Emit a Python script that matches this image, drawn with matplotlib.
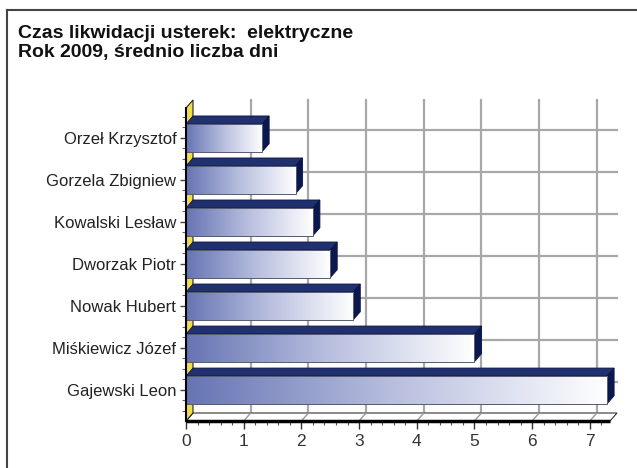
import numpy as np
import matplotlib.pyplot as plt
from matplotlib.patches import Polygon
from matplotlib.colors import LinearSegmentedColormap
from matplotlib.ticker import MultipleLocator

plt.rcParams['font.family'] = ['Liberation Sans', 'DejaVu Sans']

# dane z wykresu (od dołu do góry)
names = ['Gajewski Leon', 'Miśkiewicz Józef', 'Nowak Hubert', 'Dworzak Piotr',
         'Kowalski Lesław', 'Gorzela Zbigniew', 'Orzeł Krzysztof']
days = [7.3, 5.0, 2.9, 2.5, 2.2, 1.9, 1.32]
x_ticks = [0, 1, 2, 3, 4, 5, 6, 7]

W, H = 637, 468
fig = plt.figure(figsize=(W / 100, H / 100), dpi=100)
ax = fig.add_axes([186 / W, 47 / H, 424 / W, 313 / H])
xmax = 7.35
ylo, yhi = -0.74, 6.71
ax.set_xlim(0, xmax)
ax.set_ylim(ylo, yhi)

# przesunięcie głębi 3D (piksele -> jednostki danych)
p0 = ax.transData.transform((0, 0))
dx, dy = ax.transData.inverted().transform(p0 + np.array([7, 8]))

ypos = np.arange(len(names))
h = 0.66

# tylna ściana - siatka
for xv in x_ticks[1:]:
    ax.plot([xv + dx, xv + dx], [ylo + dy, yhi + dy], color='#a8a8a8', lw=1.6, zorder=1, clip_on=False)
for yv in ypos:
    ax.plot([dx, xmax + dx], [yv + dy, yv + dy], color='#a8a8a8', lw=1.6, zorder=1, clip_on=False)

# podłoga
floor = Polygon([(0, ylo), (xmax, ylo), (xmax + dx, ylo + dy), (dx, ylo + dy)],
                closed=True, facecolor='white', edgecolor='#333333', lw=0.8, zorder=2, clip_on=False)
ax.add_patch(floor)
for xv in x_ticks[1:]:
    ax.plot([xv, xv + dx], [ylo, ylo + dy], color='#999999', lw=1.0, zorder=2, clip_on=False)
ax.plot([0, xmax], [ylo, ylo], color='black', lw=2.5, zorder=6, clip_on=False, solid_capstyle='butt')

# lewa ściana
wall = Polygon([(0, ylo), (0, yhi), (dx, yhi + dy), (dx, ylo + dy)],
               closed=True, facecolor='#f3dc4a', edgecolor='#222222', lw=0.8, zorder=2, clip_on=False)
ax.add_patch(wall)

cmap = LinearSegmentedColormap.from_list('bar', ['#6674b3', '#b9c0df', '#ffffff'])
grad = np.linspace(0, 1, 256).reshape(1, -1)

for yv, v in zip(ypos, days):
    top = Polygon([(0, yv + h / 2), (v, yv + h / 2), (v + dx, yv + h / 2 + dy), (dx, yv + h / 2 + dy)],
                  closed=True, facecolor='#21316f', edgecolor='#0d1640', lw=0.6, zorder=3, clip_on=False)
    side = Polygon([(v, yv - h / 2), (v, yv + h / 2), (v + dx, yv + h / 2 + dy), (v + dx, yv - h / 2 + dy)],
                   closed=True, facecolor='#0b1850', edgecolor='#0b1440', lw=0.6, zorder=3, clip_on=False)
    ax.add_patch(top)
    ax.add_patch(side)
    ax.imshow(grad, extent=(0, v, yv - h / 2, yv + h / 2), aspect='auto', cmap=cmap,
              zorder=4, interpolation='bilinear')
    ax.add_patch(Polygon([(0, yv - h / 2), (v, yv - h / 2), (v, yv + h / 2), (0, yv + h / 2)],
                         closed=True, fill=False, edgecolor='#555a70', lw=0.7, zorder=5))

ax.set_xlim(0, xmax)
ax.set_ylim(ylo, yhi)
ax.set_facecolor('none')
for s in ['top', 'right', 'bottom']:
    ax.spines[s].set_visible(False)
ax.spines['left'].set_color('black')
ax.spines['left'].set_linewidth(1.5)
ax.spines['left'].set_zorder(6)

ax.set_xticks(x_ticks)
ax.set_xticklabels([str(t) for t in x_ticks], fontsize=12.5, color='#333333')
ax.xaxis.set_minor_locator(MultipleLocator(0.2))
ax.tick_params(axis='x', which='major', length=6, width=1, color='#333333', pad=3)
ax.tick_params(axis='x', which='minor', length=3, width=0.8, color='#555555')
ax.set_yticks(ypos)
ax.set_yticklabels(names, fontsize=12, color='#222222')
ax.yaxis.set_minor_locator(MultipleLocator(0.25))
ax.tick_params(axis='y', which='major', length=4, width=1, color='#444444', pad=3)
ax.tick_params(axis='y', which='minor', length=3, width=0.8, color='#666666')

# tytuł
fig.text(18 / W, 1 - 33 / H, 'Czas likwidacji usterek:  elektryczne', fontsize=14, fontweight='bold',
         va='center', ha='left', color='#111111')
fig.text(18 / W, 1 - 53 / H, 'Rok 2009, średnio liczba dni', fontsize=14, fontweight='bold',
         va='center', ha='left', color='#111111')

# ramka
fig.add_artist(plt.Line2D([7 / W, 7 / W], [0, 1 - 10 / H], color='#444444', lw=1.5))
fig.add_artist(plt.Line2D([7 / W, 1], [1 - 10 / H, 1 - 10 / H], color='#444444', lw=1.5))

fig.savefig('out.png', dpi=100)
